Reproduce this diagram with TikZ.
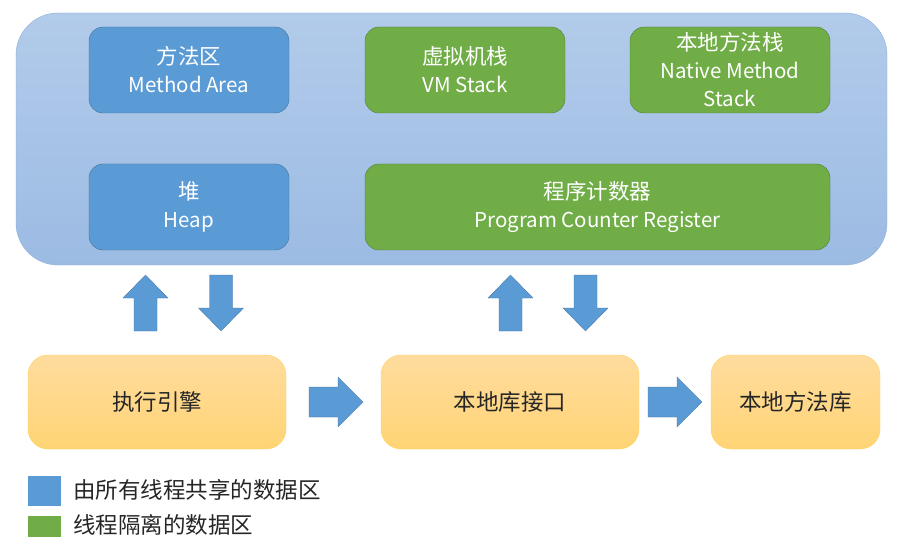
\documentclass[tikz,border=0pt]{standalone}
\usepackage{fontspec}
\setmainfont{Noto Sans CJK SC}
\usepackage{tikz}
\usetikzlibrary{calc,shapes,positioning}

\definecolor{areablue}{HTML}{5B9BD5}
\definecolor{areablueline}{HTML}{41719C}
\definecolor{stackgreen}{HTML}{70AD47}
\definecolor{stackgreenline}{HTML}{507E32}
\definecolor{jvmtop}{HTML}{B2CBEA}
\definecolor{jvmbottom}{HTML}{9CBBE3}
\definecolor{jvmline}{HTML}{8EAFDB}
\definecolor{enginetop}{HTML}{FFDC9E}
\definecolor{enginebottom}{HTML}{FFD475}
\definecolor{engineline}{HTML}{FFD35C}
\definecolor{textdark}{HTML}{262626}

% chinese line a bit larger than the latin one
\newcommand\zhline[1]{{\fontsize{21.5}{28}\selectfont #1}}

\begin{document}
\begin{tikzpicture}[x=1pt,y=-1pt,
		jvm/.style={draw=jvmline, rounded corners=42pt, top color=jvmtop, bottom color=jvmbottom},
		area/.style={draw=areablueline, fill=areablue, rounded corners=14pt, text=white, align=center,
			font=\fontsize{20.5}{28}\selectfont, inner sep=0pt},
		shared/.style={area},
		private/.style={area, draw=stackgreenline, fill=stackgreen},
		engine/.style={draw=engineline, rounded corners=20pt, top color=enginetop, bottom color=enginebottom,
			text=textdark, font=\fontsize{22.5}{26}\selectfont, inner sep=0pt},
		blockarr/.style={fill=areablue, draw=areablueline, line width=0.3pt},
		legend/.style={anchor=west, text=textdark, font=\fontsize{22.5}{26}\selectfont, inner sep=0pt}]
	
	\useasboundingbox (0,0) rectangle (904,537);
	\clip (0,0) rectangle (904,537);
	
	% runtime data area
	\draw[jvm] (16,13) rectangle (887,265);
	
	\node[shared, minimum width=200pt, minimum height=86pt] (method) at (189,70) {\zhline{方法区}\\Method Area};
	\node[private, minimum width=200pt, minimum height=86pt] (vmstack) at (465,70) {\zhline{虚拟机栈}\\VM Stack};
	\node[private, minimum width=200pt, minimum height=86pt] (nativestack) at (730,70) {\zhline{本地方法栈}\\Native Method\\Stack};
	\node[shared, minimum width=200pt, minimum height=86pt] (heap) at (189,207) {\zhline{堆}\\Heap};
	\node[private, minimum width=465pt, minimum height=86pt] (pc) at (597.5,207) {\zhline{程序计数器}\\Program Counter Register};
	
	% engine and native interface
	\node[engine, minimum width=258pt, minimum height=94pt] (engine) at (157,402) {执行引擎};
	\node[engine, minimum width=258pt, minimum height=94pt] (nativeif) at (510,402) {本地库接口};
	\node[engine, minimum width=169pt, minimum height=94pt] (nativelib) at (795.5,402) {本地方法库};
	
	% block arrows up and down
	\foreach \u/\d in {145.5/221, 510.5/585.5}{
		\draw[blockarr] (\u-11.5,331) -- (\u+11.5,331) -- (\u+11.5,298) -- (\u+22.5,298) -- (\u,275)
			-- (\u-22.5,298) -- (\u-11.5,298) -- cycle;
		\draw[blockarr] (\d-11.5,275) -- (\d+11.5,275) -- (\d+11.5,308) -- (\d+22.5,308) -- (\d,331)
			-- (\d-22.5,308) -- (\d-11.5,308) -- cycle;
	}
	
	% block arrows to the right
	\foreach \r in {309, 648}{
		\draw[blockarr] (\r,387) -- (\r+29,387) -- (\r+29,377) -- (\r+54,402) -- (\r+29,427)
			-- (\r+29,417) -- (\r,417) -- cycle;
	}
	
	% legend
	\fill[areablue] (28,476) rectangle (61,506);
	\node[legend] (sharedkey) at (73,490) {由所有线程共享的数据区};
	\fill[stackgreen] (28,516) rectangle (61,546);
	\node[legend] (privatekey) at (73,525) {线程隔离的数据区};
	
\end{tikzpicture}
\end{document}
